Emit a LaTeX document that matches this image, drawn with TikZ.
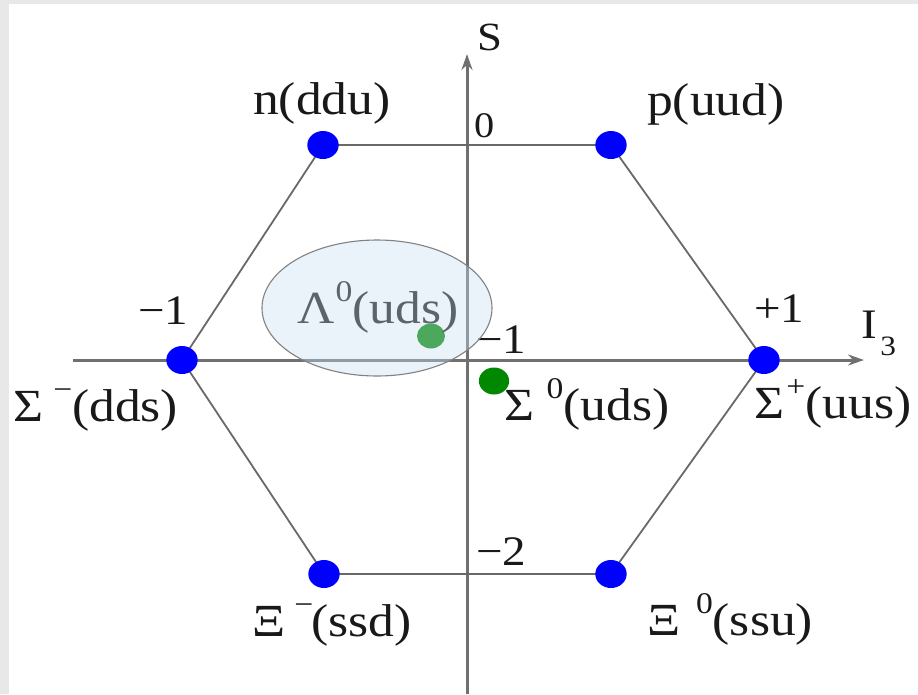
\documentclass[tikz,border=0pt]{standalone}
\usepackage{fontspec}
\setmainfont{Liberation Serif}
\usetikzlibrary{arrows.meta}
\definecolor{axisgray}{RGB}{112,112,112}
\definecolor{edgegray}{RGB}{105,105,105}
\definecolor{dotblue}{RGB}{0,0,255}
\definecolor{dotgreen}{RGB}{0,136,0}
\definecolor{ellfill}{RGB}{200,222,242}
\definecolor{ellline}{RGB}{130,130,130}
\definecolor{framegray}{RGB}{232,232,232}
\definecolor{txt}{RGB}{25,25,25}
\newcommand\upi[1]{\raisebox{22pt}{\fontsize{30}{30}\selectfont #1}}
\begin{document}
\begin{tikzpicture}[x=1pt,y=-1pt,
  lbl/.style={inner sep=0pt, anchor=base west, xscale=1.12, font=\fontsize{46}{50}\selectfont, text=txt},
  num/.style={inner sep=0pt, anchor=base west, xscale=1.12, font=\fontsize{42}{44}\selectfont, text=txt},
  vtx/.style={circle, fill=dotblue, inner sep=0pt, minimum size=28pt, xscale=1.12},
  axis/.style={draw=axisgray, line width=3pt, -{Stealth[length=16pt,width=11pt]}},
  edge/.style={draw=edgegray, line width=1.8pt}]
% background
\fill[framegray] (0,0) rectangle (918,694);
\fill[white] (9,4) rectangle (918,694);
\useasboundingbox (0,0) rectangle (918,694);
% axes
\coordinate (sbot) at (467,694);
\coordinate (stop) at (467,54);
\coordinate (ileft) at (73,360);
\coordinate (iright) at (864,360);
\draw[axis] (sbot) -- (stop);
\draw[axis] (ileft) -- (iright);
% vertices
\coordinate (cn) at (323,145);
\coordinate (cp) at (611,145);
\coordinate (csp) at (764,360);
\coordinate (cx0) at (611,574);
\coordinate (cxm) at (324,574);
\coordinate (csm) at (182,360);
\draw[edge] (cn) -- (cp) -- (csp) -- (cx0) -- (cxm) -- (csm) -- cycle;
\node[vtx] (n) at (cn) {};
\node[vtx] (p) at (cp) {};
\node[vtx] (sp) at (csp) {};
\node[vtx] (x0) at (cx0) {};
\node[vtx] (xm) at (cxm) {};
\node[vtx] (sm) at (csm) {};
\node[circle, fill=dotgreen, inner sep=0pt, minimum size=27pt, xscale=1.12] (s0) at (494,381) {};
\node[circle, fill=dotgreen, inner sep=0pt, minimum size=25pt, xscale=1.12] (l0) at (431,336) {};
% axis labels
\node[lbl, font=\fontsize{40}{44}\selectfont] (S) at (477,50) {S};
\node[lbl, font=\fontsize{42}{44}\selectfont] (I3) at (861,338) {I\hspace{3pt}\raisebox{-17pt}{\fontsize{28}{28}\selectfont 3}};
\node[num, font=\fontsize{36}{38}\selectfont] (z0) at (474,137) {0};
\node[num] (m1l) at (138,324) {−1};
\node[num] (p1) at (754,322) {+1};
\node[num] (m1c) at (476,353) {−1};
\node[num] (m2) at (476,565) {−2};
% particle labels
\node[lbl] (ln) at (253,114) {n(ddu)};
\node[lbl] (lp) at (647,115) {p(uud)};
\node[lbl] (lsm) at (13,421) {Σ\hspace{9pt}\upi{−}(dds)};
\node[lbl] (ls0) at (504,420) {Σ\hspace{11pt}\upi{0}(uds)};
\node[lbl] (lsp) at (754,418) {Σ\hspace{2pt}\upi{+}(uus)};
\node[lbl] (lxm) at (252,636) {Ξ\hspace{8pt}\upi{−}\hspace{-2pt}(ssd)};
\node[lbl] (lx0) at (647,635) {Ξ\hspace{14pt}\upi{0}(ssu)};
\node[lbl] (ll) at (297,323) {Λ\hspace{1pt}\upi{0}(uds)};
% highlight ellipse
\path[fill=ellfill, fill opacity=0.38, draw=ellline, line width=1.1pt] (377,308) ellipse [x radius=115, y radius=68];
\end{tikzpicture}
\end{document}
